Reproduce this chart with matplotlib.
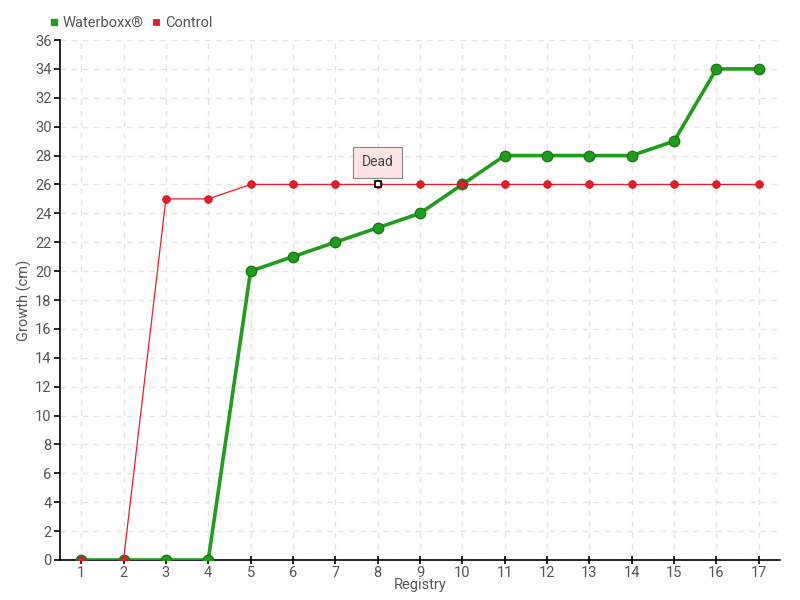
import matplotlib
matplotlib.use("Agg")
import matplotlib.pyplot as plt

registry = list(range(1, 18))
waterboxx = [0, 0, 0, 0, 20, 21, 22, 23, 24, 26, 28, 28, 28, 28, 29, 34, 34]
control = [0, 0, 25, 25, 26, 26, 26, 26, 26, 26, 26, 26, 26, 26, 26, 26, 26]
yticks = list(range(0, 37, 2))
dead_index = 7
dead_label = "Dead"

green = "#1f9e1a"
green_edge = "#187a14"
red = "#ee1a2a"
txt = "#555555"

plt.rcParams["font.family"] = ["Roboto", "DejaVu Sans"]

fig = plt.figure(figsize=(8, 6), dpi=100)
ax = fig.add_axes([0.075, 0.0667, 0.9, 0.8666])

ax.plot(registry, waterboxx, color=green, lw=2.6, marker="o", ms=7.5,
        mfc=green, mec=green_edge, mew=1.0, zorder=3, label="Waterboxx®")
ax.plot(registry, control, color=red, lw=0.9, marker="o", ms=5.5,
        mfc=red, mec="#c8101e", mew=0.6, zorder=4, label="Control")
# dead marker
ax.plot([registry[dead_index]], [control[dead_index]], marker="s", ms=4.5,
        mfc="white", mec="black", mew=1.2, ls="none", zorder=5)
ax.annotate(dead_label, xy=(registry[dead_index], control[dead_index]),
            xytext=(0, 16), textcoords="offset points", ha="center", va="center",
            fontsize=10, color="#444444",
            bbox=dict(boxstyle="square,pad=0.6", fc="#fde4e4", ec="#888888", lw=0.8),
            arrowprops=dict(arrowstyle="-", color="#888888", lw=0.8, shrinkA=0, shrinkB=4),
            zorder=6)

ax.set_xlim(0.5, 17.5)
ax.set_ylim(0, 36)
ax.set_xticks(registry)
ax.set_yticks(yticks)
ax.grid(True, color="#e4e4e4", ls=(0, (4, 4)), lw=1)
ax.set_axisbelow(True)
for s in ["top", "right"]:
    ax.spines[s].set_visible(False)
for s in ["left", "bottom"]:
    ax.spines[s].set_color("black")
    ax.spines[s].set_linewidth(1.2)
ax.tick_params(colors="black", labelcolor=txt, labelsize=10.5, length=4, width=1.2, pad=2)
ax.tick_params(axis="x", direction="inout", length=6, pad=1)
ax.set_xlabel("Registry", color=txt, fontsize=10.5, labelpad=-1)
ax.set_ylabel("Growth (cm)", color=txt, fontsize=10.5, labelpad=2)

leg = fig.legend(loc="upper left", bbox_to_anchor=(0.045, 0.995), ncol=2,
                 frameon=False, fontsize=10.5, handlelength=0.6, handletextpad=0.3,
                 columnspacing=0.6, labelcolor=txt)
for h, c in zip(leg.legend_handles, [green, red]):
    h.set_linestyle("none")
    h.set_marker("s")
    h.set_markersize(5)
    h.set_markerfacecolor(c)
    h.set_markeredgecolor(c)

fig.savefig("out.png", dpi=100)
